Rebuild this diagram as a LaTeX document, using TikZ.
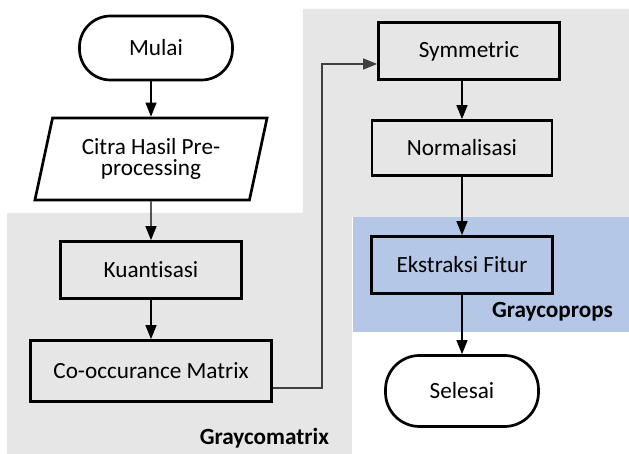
\documentclass[tikz,border=0pt]{standalone}
\usepackage{fontspec}
\setmainfont{Carlito}[Ligatures=NoCommon]
\usetikzlibrary{positioning,arrows.meta,calc,shapes.geometric}
\definecolor{panelgray}{HTML}{E7E6E6}
\definecolor{panelblue}{HTML}{B4C7E7}

\begin{document}
\begin{tikzpicture}[
  x=0.5pt, y=-0.5pt,
  font=\fontsize{11.6}{10.5}\selectfont,
  >={Triangle[length=7pt, width=5.5pt]},
  box/.style={draw=black, line width=1.35pt, align=center, inner sep=2pt,
              minimum width=90.5pt, minimum height=28.5pt},
  term/.style={box, rounded corners=15.5pt, minimum width=76.5pt, minimum height=32pt},
  io/.style={draw=black, line width=1.35pt, align=center, trapezium,
             trapezium left angle=76, trapezium right angle=104,
             trapezium stretches=true, minimum width=117pt, minimum height=41pt},
  arr/.style={->, line width=0.65pt, black},
  grp/.style={font=\fontsize{11.6}{13}\selectfont\bfseries, anchor=east},
]
\useasboundingbox (0,0) rectangle (629,454);

%% ---------- panels ----------
\fill[panelgray] (303,9) -| (629,217) -| (352,454) -| (7,213) -| (303,9) -- cycle;
\fill[panelblue] (353,217) rectangle (629,332);

%% ---------- column 1: input and graycomatrix ----------
\node[term] (mulai) at (156,48) {Mulai};
\node[io] (citra) at (151,159) {Citra Hasil Pre-\\processing};
\node[box] (kuant) at (151,270) {Kuantisasi};
\node[box, minimum width=120.5pt, minimum height=30.5pt] (cooc) at (151,371) {Co-occurance Matrix};

\draw[arr] (mulai.south -| citra.north) -- (citra.north);
\draw[arr] (citra) -- (kuant);
\draw[arr] (kuant) -- (cooc);

%% ---------- column 2: symmetric, normalisasi, graycoprops ----------
\node[box] (sym) at (469,51) {Symmetric};
\node[box, minimum width=90pt, minimum height=27.5pt] (norm) at (462,148) {Normalisasi};
\node[box] (ekstr) at (462,265) {Ekstraksi Fitur};
\node[term, minimum height=35.5pt, rounded corners=17pt] (selesai) at (462,391) {Selesai};

\draw[arr] (sym.south -| norm.north) -- (norm);
\draw[arr] (norm) -- (ekstr);
\draw[arr] (ekstr) -- (selesai);

%% ---------- elbow from co-occurance to symmetric ----------
\coordinate (c1) at (322,388);
\coordinate (c2) at (322,64);
\draw[arr, black!75] (cooc.east |- c1) -- (c1) -- (c2) -- (sym.west |- c2);

%% ---------- group labels ----------
\node[grp] (lblglcm) at (336,438) {Graycomatrix};
\node[grp] (lblprops) at (620,312) {Graycoprops};

\end{tikzpicture}
\end{document}
